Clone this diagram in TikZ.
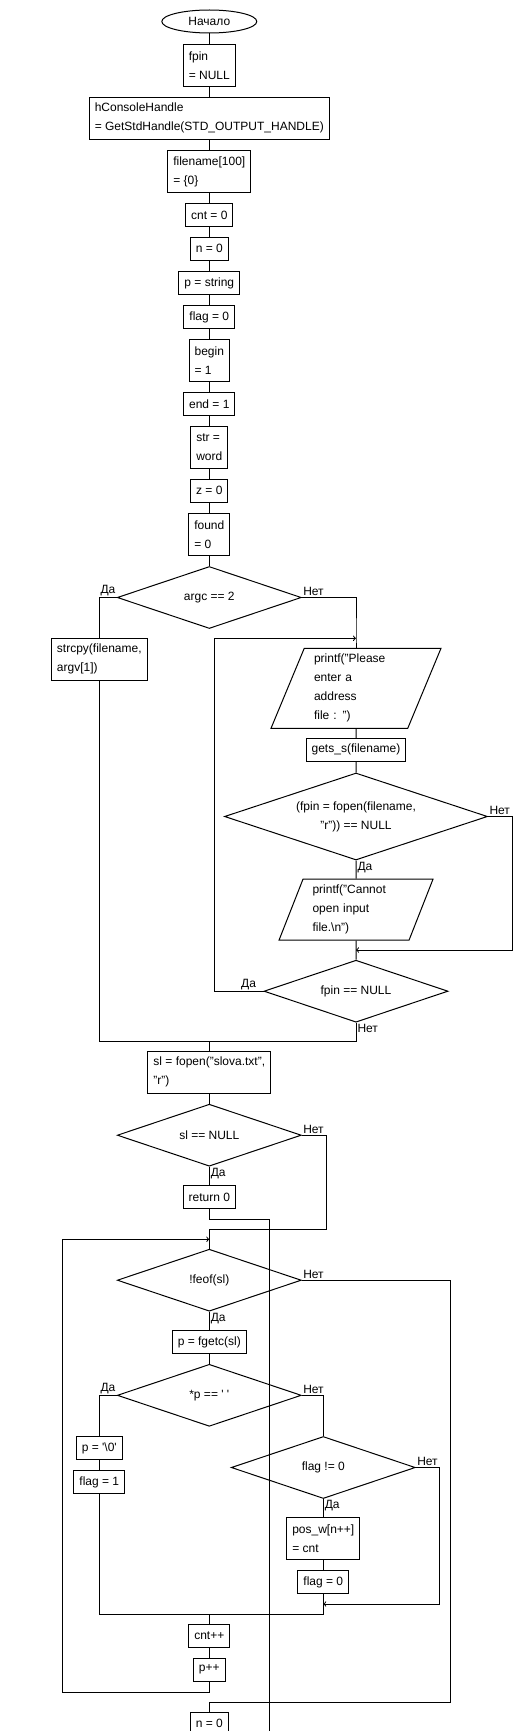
\documentclass[tikz,border=0pt]{standalone}
\usepackage{fontspec}
\setmainfont{Liberation Sans}
\usetikzlibrary{shapes,arrows}

\begin{document}
\begin{tikzpicture}[x=1pt,y=-1pt,line width=1pt,>=to,
	font=\fontsize{12}{19}\selectfont,
	blk/.style={draw,rectangle,align=left,inner xsep=5.5pt,inner ysep=0pt,minimum height=23pt},
	blk2/.style={blk,minimum height=42pt},
	term/.style={draw,ellipse,inner sep=0pt,minimum width=95pt,minimum height=23pt},
	cond/.style={draw,diamond,aspect=3,inner sep=0pt,align=center,minimum width=184pt,minimum height=62pt},
	io/.style={draw,trapezium,trapezium left angle=64,trapezium right angle=116,trapezium stretches body,align=left,inner xsep=3pt,inner ysep=0pt},
	lbl/.style={inner sep=1pt}]
	%Columns of the chart
	%\mx main column, \lx left branch, \rx input loop, \fx flag branch
	\pgfmathsetmacro{\mx}{209.3}
	\pgfmathsetmacro{\lx}{99.3}
	\pgfmathsetmacro{\rx}{356}
	\pgfmathsetmacro{\fx}{323.3}
	
	\useasboundingbox (0,0) rectangle (520,1731);
	
	%Initialisation
	\node[term] (start) at (\mx,21.5) {Начало};
	\node[blk2] (fpinset) at (\mx,65.8) {fpin\\= NULL};
	\node[blk2] (hcon) at (\mx,118.3) {hConsoleHandle\\= GetStdHandle(STD\_OUTPUT\_HANDLE)};
	\node[blk2] (fname) at (\mx,171.5) {filename[100]\\= \{0\}};
	\node[blk] (cntset) at (\mx,215.3) {cnt = 0};
	\node[blk] (nset) at (\mx,248.7) {n = 0};
	\node[blk] (pset) at (\mx,283) {p = string};
	\node[blk] (flagset) at (\mx,317) {flag = 0};
	\node[blk2] (beginset) at (\mx,360.2) {begin\\= 1};
	\node[blk] (endset) at (\mx,404) {end = 1};
	\node[blk2] (strset) at (\mx,447.5) {str =\\word};
	\node[blk] (zset) at (\mx,490.8) {z = 0};
	\node[blk2] (foundset) at (\mx,534.3) {found\\= 0};
	\draw (start) -- (fpinset) -- (hcon) -- (fname) -- (cntset) -- (nset) -- (pset) -- (flagset) -- (beginset) -- (endset) -- (strset) -- (zset) -- (foundset);
	
	%File name from argv or from the user
	\node[cond] (argc) at (\mx,597.5) {argc == 2};
	\node[blk2] (strcpy) at (\lx,659.3) {strcpy(filename,\\argv[1])};
	\node[io,minimum width=170pt,minimum height=80pt,text width=84pt] (ask) at (\rx,688.3) {printf("Please\\enter a\\address\\file : ")};
	\node[blk] (gets) at (\rx,749.8) {gets\_s(filename)};
	\node[cond,minimum width=263pt,minimum height=87pt] (open) at (\rx,816.5) {(fpin = fopen(filename,\\"r")) == NULL};
	\node[io,minimum width=154pt,minimum height=61pt,text width=87pt] (err) at (\rx,909.7) {printf("Cannot\\open input\\file.\textbackslash n")};
	\node[cond] (chk) at (\rx,991.2) {fpin == NULL};
	
	\coordinate (inmerge) at (\rx,638.3);
	\coordinate (errmerge) at (\rx,950);
	\coordinate (join1) at (\mx,1041);
	\draw (foundset) -- (argc);
	\draw (argc.west) -| (strcpy.north);
	\draw (argc.east) -| (inmerge) -- (ask);
	\draw (ask) -- (gets) -- (open);
	\draw (open) -- (err) -- (chk);
	\draw[->] (open.east) -- ++(24.8,0) |- (errmerge);
	\draw[->] (chk.west) -| ([xshift=-141.7pt]inmerge) -- (inmerge);
	\draw (chk.south) |- (join1) -| (strcpy.south);
	
	\node[lbl,anchor=south east] (argcyes) at (argc.west) {Да};
	\node[lbl,anchor=south west] (argcno) at (argc.east) {Нет};
	\node[lbl,anchor=south west] (openno) at (open.east) {Нет};
	\node[lbl,anchor=north west] (openyes) at (open.south) {Да};
	\node[lbl,anchor=south east] (chkyes) at ([xshift=-6pt]chk.west) {Да};
	\node[lbl,anchor=north west] (chkno) at (chk.south) {Нет};
	
	%Word list
	\node[blk2] (slopen) at (\mx,1072.3) {sl = fopen("slova.txt",\\"r")};
	\node[cond] (slchk) at (\mx,1135.2) {sl == NULL};
	\node[blk] (ret) at (\mx,1197) {return 0};
	\coordinate (slmerge) at (\mx,1229);
	\coordinate (retout) at (269.3,1745);
	\draw (join1) -- (slopen) -- (slchk) -- (ret);
	\draw (slchk.east) -- ++(24.6,0) |- (slmerge);
	\draw (ret.south) -- ++(0,10.5) -| (retout);
	
	\node[lbl,anchor=south west] (slno) at (slchk.east) {Нет};
	\node[lbl,anchor=north west] (slyes) at (slchk.south) {Да};
	
	%Reading loop
	\node[cond] (eof) at (\mx,1280.2) {!feof(sl)};
	\node[blk] (getc) at (\mx,1342) {p = fgetc(sl)};
	\node[cond] (space) at (\mx,1395.3) {*p == \textquotesingle\ \textquotesingle};
	\node[blk] (zero) at (\lx,1448) {p = \textquotesingle\textbackslash 0\textquotesingle};
	\node[blk] (flagone) at (\lx,1482) {flag = 1};
	\node[cond] (flagchk) at (\fx,1467.5) {flag != 0};
	\node[blk2] (posw) at (\fx,1538.3) {pos\_w[n++]\\= cnt};
	\node[blk] (flagzero) at (\fx,1582) {flag = 0};
	\node[blk] (cntinc) at (\mx,1635.8) {cnt++};
	\node[blk] (pinc) at (\mx,1669.7) {p++};
	\node[blk] (nzero) at (\mx,1723.8) {n = 0};
	
	\coordinate (loophead) at (\mx,1239.3);
	\coordinate (loopfoot) at (\mx,1692.3);
	\coordinate (exitfoot) at (\mx,1702.3);
	\coordinate (flagmerge) at (\fx,1604);
	\coordinate (join2) at (\mx,1614.3);
	\draw (slmerge) -- (eof);
	\draw (eof) -- (getc) -- (space);
	\draw (space.west) -| (zero.north);
	\draw (zero) -- (flagone);
	\draw (space.east) -| (flagchk.north);
	\draw (flagchk) -- (posw) -- (flagzero);
	\draw[->] (flagchk.east) -- ++(24,0) |- (flagmerge);
	\draw (flagzero) -- (flagmerge) |- (join2) -| (flagone.south);
	\draw (join2) -- (cntinc) -- (pinc);
	\draw[->] (pinc.south) |- ([xshift=-147pt]loopfoot) |- (loophead);
	\draw (eof.east) -| ([xshift=241pt]exitfoot) -- (exitfoot) -- (nzero);
	
	\node[lbl,anchor=south west] (eofno) at (eof.east) {Нет};
	\node[lbl,anchor=north west] (eofyes) at (eof.south) {Да};
	\node[lbl,anchor=south east] (spaceyes) at (space.west) {Да};
	\node[lbl,anchor=south west] (spaceno) at (space.east) {Нет};
	\node[lbl,anchor=south west] (flagno) at (flagchk.east) {Нет};
	\node[lbl,anchor=north west] (flagyes) at (flagchk.south) {Да};
\end{tikzpicture}
\end{document}
